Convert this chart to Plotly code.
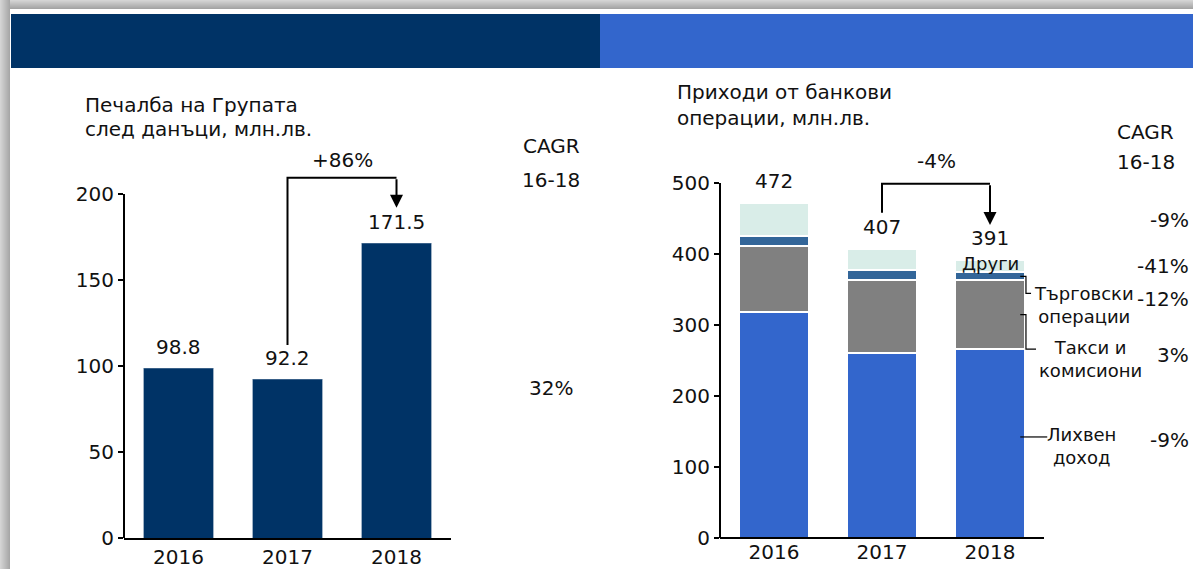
import plotly.graph_objects as go

# ---------------- data ----------------
years = ["2016", "2017", "2018"]
profit = [98.8, 92.2, 171.5]
profit_change = "+86%"
profit_cagr = "32%"

interest = [319, 261, 266]
fees = [92, 102, 97]
trading = [14, 14, 11]
other = [47, 30, 17]
totals = [472, 407, 391]
rev_change = "-4%"
total_cagr = "-9%"
seg_labels = ["Лихвен<br>доход", "Такси и<br>комисиони", "Търговски<br>операции", "Други"]
seg_cagr = ["-9%", "3%", "-12%", "-41%"]

left_title = ["Печалба на Групата", "след данъци, млн.лв."]
right_title = ["Приходи от банкови", "операции, млн.лв."]

# ---------------- style ----------------
W, H = 1193, 569
NAVY = "#003366"
BLUE = "#3366CC"
GRAY = "#808080"
STEEL = "#336699"
MINT = "#D9EDE8"
TXT = "#111111"
FONT = "DejaVu Sans"


def px(x):
    return x / W


def py(y):
    return 1 - y / H


xs = list(range(len(years)))
ybot, ytop = py(538), py(150)
left_yhi = 200 * 388 / 344
right_yhi = 500 * 388 / 355
right_xhi = -0.5 + (W - 720) / 108

fig = go.Figure()
fig.add_trace(go.Bar(x=xs, y=profit, width=0.64, marker=dict(color=NAVY, line=dict(color="#5f7f9f", width=0.6)),
                     xaxis="x", yaxis="y", showlegend=False, hoverinfo="y"))
for vals, col in [(interest, BLUE), (fees, GRAY), (trading, STEEL), (other, MINT)]:
    fig.add_trace(go.Bar(x=xs, y=vals, width=0.65, marker=dict(color=col, line=dict(color="white", width=2)),
                         xaxis="x2", yaxis="y2", showlegend=False, hoverinfo="y"))

axis_font = dict(family=FONT, size=20, color=TXT)
fig.update_layout(
    width=W, height=H, margin=dict(l=0, r=0, t=0, b=0, pad=0), autosize=False,
    paper_bgcolor="white", plot_bgcolor="rgba(0,0,0,0)",
    barmode="stack", font=dict(family=FONT, size=20, color=TXT),
    xaxis=dict(domain=[px(124), px(451)], range=[-0.5, 2.5], tickvals=xs, ticktext=years,
               showline=True, linecolor="black", linewidth=2, showgrid=False, zeroline=False,
               ticks="", tickfont=axis_font, fixedrange=True, automargin=False),
    yaxis=dict(domain=[ybot, ytop], range=[0, left_yhi], tickvals=[0, 50, 100, 150, 200],
               showline=False, showgrid=False, zeroline=False, ticks="outside", ticklen=5,
               tickwidth=1.5, tickcolor="black", tickfont=axis_font, fixedrange=True, automargin=False),
    xaxis2=dict(domain=[px(720), 1.0], range=[-0.5, right_xhi], tickvals=xs, ticktext=years,
                showline=False, showgrid=False, zeroline=False, ticks="", tickfont=axis_font,
                anchor="y2", fixedrange=True, automargin=False),
    yaxis2=dict(domain=[ybot, ytop], range=[0, right_yhi], tickvals=[0, 100, 200, 300, 400, 500],
                showline=False, showgrid=False, zeroline=False, ticks="outside", ticklen=5,
                tickwidth=1.5, tickcolor="black", tickfont=axis_font, anchor="x2", fixedrange=True,
                automargin=False),
)

shapes = []
# window shadow border
for i in range(9):
    g = int(0xd4 - i * 6)
    c = f"rgb({g},{g},{g})"
    shapes.append(dict(type="rect", xref="paper", yref="paper", x0=0, x1=1, y0=py(i), y1=py(i + 1),
                       fillcolor=c, line=dict(width=0), layer="below"))
for i in range(10):
    g = int(0xd4 - i * 5)
    c = f"rgb({g},{g},{g})"
    shapes.append(dict(type="rect", xref="paper", yref="paper", x0=px(i), x1=px(i + 1), y0=0, y1=1,
                       fillcolor=c, line=dict(width=0), layer="below"))
# banner
shapes.append(dict(type="rect", xref="paper", yref="paper", x0=px(11), x1=px(600), y0=py(68), y1=py(14),
                   fillcolor=NAVY, line=dict(width=0), layer="below"))
shapes.append(dict(type="rect", xref="paper", yref="paper", x0=px(600), x1=1, y0=py(68), y1=py(14),
                   fillcolor=BLUE, line=dict(width=0), layer="below"))
# axis lines
shapes.append(dict(type="line", xref="x domain", yref="y domain", x0=0, x1=0, y0=0, y1=200 / left_yhi,
                   line=dict(color="black", width=2)))
shapes.append(dict(type="line", xref="x2 domain", yref="y2 domain", x0=0, x1=0, y0=0, y1=500 / right_yhi,
                   line=dict(color="black", width=2)))
shapes.append(dict(type="line", xref="x2 domain", yref="y2 domain", x0=0, x1=3 / (right_xhi + 0.5), y0=0, y1=0,
                   line=dict(color="black", width=2)))

# growth brackets
l_start, l_top, l_tip = profit[1] + 20, profit[2] + 38, profit[2] + 20.5
shapes.append(dict(type="path", xref="x", yref="y",
                   path=f"M 1,{l_start} L 1,{l_top} L 2,{l_top}", line=dict(color="black", width=2)))
r_start, r_top, r_tip = totals[1] + 51, max(totals) + 27, totals[2] + 50
shapes.append(dict(type="path", xref="x2", yref="y2",
                   path=f"M 1,{r_start} L 1,{r_top} L 2,{r_top}", line=dict(color="black", width=2)))

# connectors for segment labels (2018 bar)
i18 = 2
trade_mid = interest[i18] + fees[i18] + trading[i18] / 2
fees_mid = interest[i18] + fees[i18] / 2
int_mid = interest[i18] * 0.535
trade_end = trade_mid - 24
fees_end = interest[i18]
shapes.append(dict(type="path", xref="x2", yref="y2",
                   path=f"M 2.28,{trade_mid} L 2.333,{trade_mid} L 2.333,{trade_end} L 2.38,{trade_end}",
                   line=dict(color="black", width=1.2)))
shapes.append(dict(type="path", xref="x2", yref="y2",
                   path=f"M 2.28,{fees_mid} L 2.333,{fees_mid} L 2.333,{fees_end} L 2.426,{fees_end}",
                   line=dict(color="black", width=1.2)))
shapes.append(dict(type="line", xref="x2", yref="y2", x0=2.28, x1=2.53, y0=int_mid, y1=int_mid,
                   line=dict(color="black", width=1.2)))
fig.update_layout(shapes=shapes)

ann = []
txt = dict(family=FONT, size=20, color=TXT)
txt18 = dict(family=FONT, size=18, color=TXT)
# value labels
for i, v in enumerate(profit):
    ann.append(dict(x=i, y=v, xref="x", yref="y", text=f"{v:.1f}", showarrow=False, yanchor="middle",
                    yshift=21, font=txt))
for i, v in enumerate(totals):
    ann.append(dict(x=i, y=v, xref="x2", yref="y2", text=str(v), showarrow=False, yanchor="middle",
                    yshift=22, font=txt))
# arrowheads
ann.append(dict(x=2, y=l_tip, ax=2, ay=l_top, xref="x", yref="y", axref="x", ayref="y", text="",
                showarrow=True, arrowhead=2, arrowsize=1.3, arrowwidth=2, arrowcolor="black",
                standoff=0, startstandoff=0))
ann.append(dict(x=2, y=r_tip, ax=2, ay=r_top, xref="x2", yref="y2", axref="x2", ayref="y2", text="",
                showarrow=True, arrowhead=2, arrowsize=1.3, arrowwidth=2, arrowcolor="black",
                standoff=0, startstandoff=0))
ann.append(dict(x=1.5, y=l_top, xref="x", yref="y", text=profit_change, showarrow=False, yanchor="middle",
                yshift=18, font=txt))
ann.append(dict(x=1.5, y=r_top, xref="x2", yref="y2", text=rev_change, showarrow=False, yanchor="middle",
                yshift=23, font=txt))
# segment labels
ann.append(dict(x=2, y=totals[2] - 5, xref="x2", yref="y2", text=seg_labels[3], showarrow=False,
                yanchor="middle", font=txt18))
ann.append(dict(x=2.87, y=trade_end, xref="x2", yref="y2", text=seg_labels[2], showarrow=False,
                yanchor="top", yshift=12, font=txt18))
ann.append(dict(x=2.93, y=fees_end, xref="x2", yref="y2", text=seg_labels[1], showarrow=False,
                yanchor="top", yshift=14, font=txt18))
ann.append(dict(x=2.85, y=int_mid, xref="x2", yref="y2", text=seg_labels[0], showarrow=False,
                yanchor="top", yshift=15, font=txt18))
# titles
for t, yy in zip(left_title, [105, 129]):
    ann.append(dict(x=px(83), y=py(yy), xref="paper", yref="paper", text=t, showarrow=False,
                    xanchor="left", yanchor="middle", font=txt))
for t, yy in zip(right_title, [92, 118]):
    ann.append(dict(x=px(675), y=py(yy), xref="paper", yref="paper", text=t, showarrow=False,
                    xanchor="left", yanchor="middle", font=txt))
# CAGR columns
for t, yy in [("CAGR", 146), ("16-18", 180), (profit_cagr, 388)]:
    ann.append(dict(x=px(551), y=py(yy), xref="paper", yref="paper", text=t, showarrow=False,
                    xanchor="center", yanchor="middle", font=txt))
for t, yy in [("CAGR", 132), ("16-18", 162)]:
    ann.append(dict(x=px(1115), y=py(yy), xref="paper", yref="paper", text=t, showarrow=False,
                    xanchor="left", yanchor="middle", font=txt))
for t, yy in zip([total_cagr, seg_cagr[3], seg_cagr[2], seg_cagr[1], seg_cagr[0]], [220, 266, 299, 355, 440]):
    ann.append(dict(x=px(1191), y=py(yy), xref="paper", yref="paper", text=t, showarrow=False,
                    xanchor="right", yanchor="middle", font=txt))
fig.update_layout(annotations=ann)

# pin the plot to the top-left corner of the window so that the page is exactly one window tall
post = """
var gd = document.querySelector('.plotly-graph-div');
document.documentElement.style.margin = '0';
document.documentElement.style.overflow = 'hidden';
document.body.style.margin = '0';
document.body.style.overflow = 'hidden';
gd.style.position = 'fixed';
gd.style.left = '0px';
gd.style.top = '0px';
"""
fig.write_html("out.html", config={"displayModeBar": False}, post_script=post)
